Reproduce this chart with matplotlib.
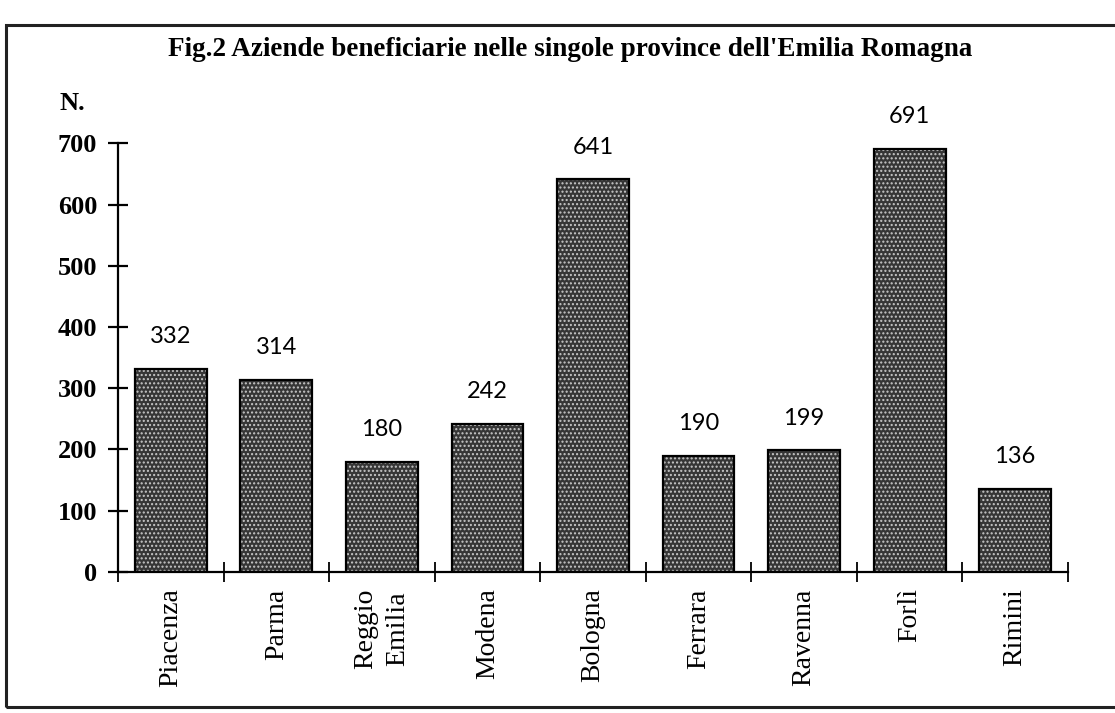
import numpy as np
import matplotlib.pyplot as plt
from matplotlib.patches import Rectangle

# data
province = ['Piacenza', 'Parma', 'Reggio\nEmilia', 'Modena', 'Bologna',
            'Ferrara', 'Ravenna', 'Forlì', 'Rimini']
aziende = [332, 314, 180, 242, 641, 190, 199, 691, 136]
y_ticks = [0, 100, 200, 300, 400, 500, 600, 700]

serif = 'Liberation Serif'

fig = plt.figure(figsize=(11.15, 7.13), dpi=100)
ax = fig.add_axes([0.1058, 0.198, 0.852, 0.601])

x = np.arange(len(province))
# dotted grey fill, then black outline
ax.bar(x, aziende, width=0.68, color='#363636', hatch='....',
       edgecolor='#c8c8c8', linewidth=0)
ax.bar(x, aziende, width=0.68, fill=False, edgecolor='black', linewidth=1.6)

for xi, v in zip(x, aziende):
    ax.annotate(str(v), (xi, v), xytext=(0, 23), textcoords='offset points',
                ha='center', va='center', fontsize=17, family='Lato')

ax.set_xlim(-0.5, len(province) - 0.5)
ax.set_ylim(0, 700)

ax.spines['top'].set_visible(False)
ax.spines['right'].set_visible(False)
ax.spines['left'].set_linewidth(1.6)
ax.spines['bottom'].set_linewidth(1.6)

ax.set_yticks(y_ticks)
ax.set_yticklabels([str(t) for t in y_ticks], fontsize=19,
                   fontweight='bold', family=serif)
ax.tick_params(axis='y', direction='inout', length=14, width=1.6, pad=8)

# category boundaries as ticks, names as minor ticks in the middle
ax.set_xticks(np.arange(len(province) + 1) - 0.5)
ax.set_xticklabels([])
ax.tick_params(axis='x', which='major', direction='inout', length=14, width=1.3)
ax.set_xticks(x, minor=True)
ax.set_xticklabels(province, minor=True, rotation=90, fontsize=20,
                   family=serif, va='top', ha='center', linespacing=1.35)
ax.tick_params(axis='x', which='minor', length=0, pad=12)

fig.text(0.065, 0.855, 'N.', fontsize=19, fontweight='bold', family=serif,
         ha='center', va='center')
fig.text(0.511, 0.93,
         "Fig.2 Aziende beneficiarie nelle singole province dell'Emilia Romagna",
         fontsize=19.5, fontweight='bold', family=serif, ha='center', va='center')

# outer frame of the scanned page
fig.patches.append(Rectangle((0.005, 0.008), 1.2, 0.957, fill=False,
                             linewidth=2.2, edgecolor='#222222',
                             transform=fig.transFigure, figure=fig))

fig.savefig('out.png', dpi=100)
